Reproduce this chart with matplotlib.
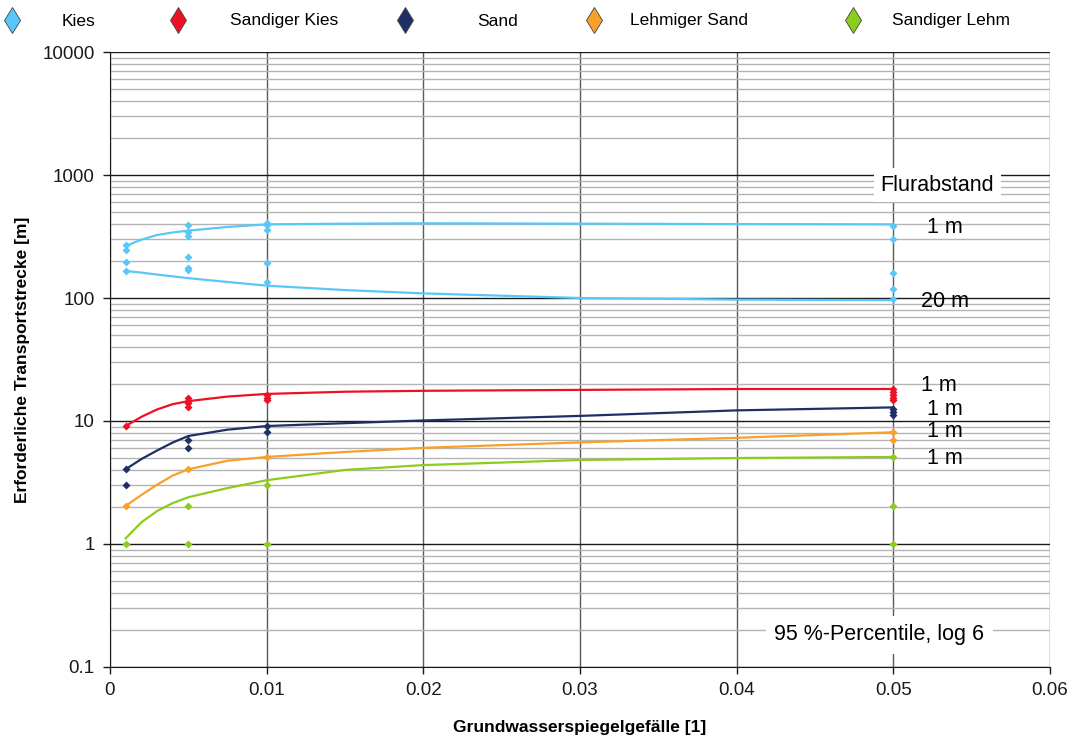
import matplotlib
matplotlib.use('Agg')
import matplotlib.pyplot as plt
from matplotlib.lines import Line2D
from matplotlib.ticker import MultipleLocator, LogLocator, FuncFormatter, NullFormatter

plt.rcParams['font.family'] = ['Liberation Sans', 'DejaVu Sans']

# Bodenarten und Farben
materials = ['Kies', 'Sandiger Kies', 'Sand', 'Lehmiger Sand', 'Sandiger Lehm']
colors = ['#5bc6f8', '#ee1125', '#1e2f66', '#f7a02a', '#8ccc1c']

# Einzelwerte (Gefaelle, Transportstrecke)
kies_x = [0.001] * 4 + [0.005] * 6 + [0.01] * 5 + [0.05] * 5
kies_y = [270, 246, 196, 166,
          392, 344, 319, 215, 175, 169,
          406, 392, 357, 193, 135,
          385, 302, 160, 118, 98]
skies_x = [0.001] + [0.005] * 4 + [0.01] * 3 + [0.05] * 5
skies_y = [9.1,
           15.3, 14.6, 13.9, 13.1,
           16.3, 15.5, 14.8,
           18.1, 17.1, 16.3, 15.5, 14.8]
sand_x = [0.001] * 2 + [0.005] * 2 + [0.01] * 2 + [0.05] * 3
sand_y = [4.05, 3.0, 7.0, 6.0, 9.16, 8.1, 12.45, 11.76, 11.2]
lsand_x = [0.001, 0.005, 0.01, 0.05, 0.05]
lsand_y = [2.04, 4.05, 5.1, 8.1, 7.0]
slehm_x = [0.001, 0.005, 0.005, 0.01, 0.01, 0.05, 0.05, 0.05]
slehm_y = [1.0, 2.04, 1.0, 3.02, 1.0, 5.07, 2.05, 1.0]

# Kurven (Flurabstand 1 m bzw. 20 m)
curve_x = [0.001, 0.002, 0.003, 0.004, 0.005, 0.0075, 0.01, 0.015, 0.02, 0.03, 0.04, 0.05]
kies_1m = [265, 298, 325, 341, 353, 378, 397, 402, 405, 402, 399, 397]
kies_20m = [166, 161, 155, 150, 145, 135, 126, 116, 109, 100, 97, 96]
skies_1m = [9.1, 10.8, 12.4, 13.7, 14.5, 15.8, 16.6, 17.3, 17.6, 17.9, 18.2, 18.2]
sand_1m = [4.05, 4.9, 5.75, 6.68, 7.55, 8.5, 9.1, 9.6, 10.1, 11.0, 12.2, 12.9]
lsand_1m = [2.04, 2.5, 3.03, 3.6, 4.05, 4.75, 5.1, 5.6, 6.05, 6.7, 7.3, 8.1]
slehm_1m = [1.11, 1.5, 1.85, 2.15, 2.4, 2.85, 3.3, 4.0, 4.38, 4.82, 5.0, 5.1]

points = [(kies_x, kies_y), (skies_x, skies_y), (sand_x, sand_y),
          (lsand_x, lsand_y), (slehm_x, slehm_y)]
curves = [(kies_1m, 0), (kies_20m, 0), (skies_1m, 1), (sand_1m, 2),
          (lsand_1m, 3), (slehm_1m, 4)]

# Beschriftung der Kurven: (Text, Gefaelle, Transportstrecke)
curve_labels = [('1 m', 0.0533, 371), ('20 m', 0.0533, 92.8), ('1 m', 0.0529, 19.6),
                ('1 m', 0.0533, 12.3), ('1 m', 0.0533, 8.14), ('1 m', 0.0533, 5.0)]

fig = plt.figure(figsize=(10.74, 7.42), dpi=100)
ax = fig.add_axes([0.1024, 0.1011, 0.8753, 0.8288])

for (cy, ci) in curves:
    ax.plot(curve_x, cy, color=colors[ci], lw=1.6, zorder=3,
            solid_joinstyle='round')
for (px, py), c in zip(points, colors):
    ax.plot(px, py, ls='none', marker='D', ms=3.6, color=c, mec='none', zorder=4)

ax.set_yscale('log')
ax.set_xlim(0, 0.06)
ax.set_ylim(0.1, 10000)
ax.xaxis.set_major_locator(MultipleLocator(0.01))
ax.xaxis.set_major_formatter(FuncFormatter(lambda v, p: '0' if abs(v) < 1e-9 else '%g' % v))
ax.yaxis.set_major_locator(LogLocator(base=10, numticks=10))
ax.yaxis.set_major_formatter(FuncFormatter(lambda v, p: '%g' % v))
ax.yaxis.set_minor_locator(LogLocator(base=10, subs=range(2, 10), numticks=20))
ax.yaxis.set_minor_formatter(NullFormatter())

ax.set_axisbelow(True)
ax.yaxis.grid(True, which='major', color='#1a1a1a', lw=1.0)
ax.yaxis.grid(True, which='minor', color='#b4b4b4', lw=1.0)
ax.xaxis.grid(True, which='major', color='#5a5a5a', lw=1.0)
for s in ['top', 'right']:
    ax.spines[s].set_visible(False)
ax.spines['left'].set_color('#1a1a1a')
ax.spines['bottom'].set_color('#1a1a1a')
ax.tick_params(which='major', direction='out', length=5, width=1, labelsize=13.5,
               colors='#1a1a1a', pad=6)
ax.tick_params(which='minor', length=0)
ax.tick_params(axis='x', pad=6)

ax.set_xlabel('Grundwasserspiegelgefälle [1]', fontsize=12.5, fontweight='bold', labelpad=15)
ax.set_ylabel('Erforderliche Transportstrecke [m]', fontsize=12.5, fontweight='bold', labelpad=9)

ax.text(0.0528, 829, 'Flurabstand', fontsize=15.5, ha='center', va='center',
        bbox=dict(facecolor='white', edgecolor='none', pad=5), zorder=5)
ax.text(0.0491, 0.182, '95 %-Percentile, log 6', fontsize=15.5, ha='center', va='center',
        bbox=dict(facecolor='white', edgecolor='none', pad=6), zorder=5)
for txt, lx, ly in curve_labels:
    ax.text(lx, ly, txt, fontsize=15.5, ha='center', va='center', zorder=5)

# Legende oben
leg_marker_x = [12, 178, 405, 594, 853]
leg_text_x = [62, 230, 477, 630, 892]
W, H = 1074.0, 742.0
for name, c, mx, tx in zip(materials, colors, leg_marker_x, leg_text_x):
    fig.add_artist(Line2D([mx / W], [1 - 20 / H], transform=fig.transFigure, ls='none',
                          marker='d', ms=13, mfc=c, mec='#444444', mew=0.6))
    fig.text(tx / W, 1 - 21 / H, name, fontsize=12.5, ha='left', va='center')

fig.savefig('out.png', dpi=100, facecolor='white')
